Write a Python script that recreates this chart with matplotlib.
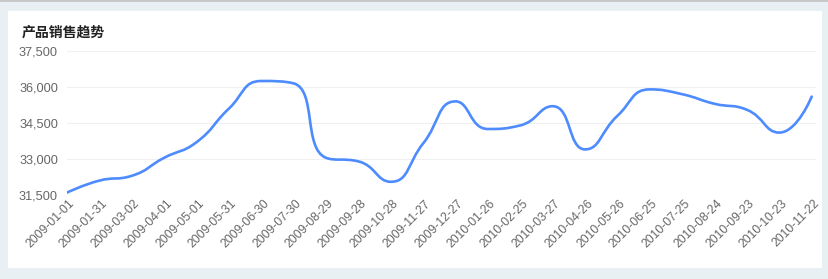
import matplotlib
matplotlib.use('Agg')
import matplotlib.pyplot as plt
import matplotlib.patches as patches
from matplotlib.path import Path
from matplotlib.transforms import ScaledTranslation
import numpy as np

plt.rcParams['font.family'] = ['Liberation Sans', 'Noto Sans CJK SC', 'DejaVu Sans']

# Data
dates = ['2009-01-01', '2009-01-31', '2009-03-02', '2009-04-01', '2009-05-01',
         '2009-05-31', '2009-06-30', '2009-07-30', '2009-08-29', '2009-09-28',
         '2009-10-28', '2009-11-27', '2009-12-27', '2010-01-26', '2010-02-25',
         '2010-03-27', '2010-04-26', '2010-05-26', '2010-06-25', '2010-07-25',
         '2010-08-24', '2010-09-23', '2010-10-23', '2010-11-22']
sales = [31600, 32100, 32300, 33050, 33700, 35100, 36250, 36150, 33050, 32900,
         32050, 33650, 35400, 34250, 34400, 35200, 33400, 34800, 35900, 35700,
         35300, 35050, 34100, 35600]
y_ticks = [31500, 33000, 34500, 36000, 37500]
title = '产品销售趋势'

line_color = '#4d8bff'
grid_color = '#f0f0f0'
label_color = '#666666'


def smooth_segments(px, py, smooth=0.5):
    # bezier control points with the "no overshoot" constraint
    segs = []
    cpx0, cpy0 = px[0], py[0]
    n = len(px)
    for k in range(1, n):
        x, y = px[k], py[k]
        prev_x, prev_y = px[k - 1], py[k - 1]
        if k == n - 1:
            segs.append((cpx0, cpy0, x, y, x, y))
            break
        next_x, next_y = px[k + 1], py[k + 1]
        vx, vy = next_x - prev_x, next_y - prev_y
        len_prev = np.hypot(x - prev_x, y - prev_y)
        len_next = np.hypot(next_x - x, next_y - y)
        r = len_next / (len_next + len_prev)
        ncx = x + vx * smooth * r
        ncy = y + vy * smooth * r
        ncx = max(min(ncx, max(next_x, x)), min(next_x, x))
        ncy = max(min(ncy, max(next_y, y)), min(next_y, y))
        vx, vy = ncx - x, ncy - y
        cpx1 = x - vx * len_prev / len_next
        cpy1 = y - vy * len_prev / len_next
        cpx1 = max(min(cpx1, max(prev_x, x)), min(prev_x, x))
        cpy1 = max(min(cpy1, max(prev_y, y)), min(prev_y, y))
        vx, vy = x - cpx1, y - cpy1
        ncx = x + vx * len_next / len_prev
        ncy = y + vy * len_next / len_prev
        segs.append((cpx0, cpy0, cpx1, cpy1, x, y))
        cpx0, cpy0 = ncx, ncy
    return segs


W, H = 829, 279
fig = plt.figure(figsize=(W / 100, H / 100), dpi=100)
fig.patch.set_facecolor('#e9f0f4')

# top border line and white card
fig.add_artist(patches.Rectangle((0, 1 - 1.5 / H), 1, 1.5 / H, transform=fig.transFigure,
                                 facecolor='#c8c8c8', edgecolor='none'))
fig.add_artist(patches.Rectangle((8 / W, 1 - 268 / H), 814 / W, 257 / H,
                                 transform=fig.transFigure, facecolor='white',
                                 edgecolor='none', zorder=0))

ax = fig.add_axes([67 / W, 1 - 195 / H, (816 - 67) / W, 144 / H])
ax.set_facecolor('none')

x = np.arange(len(sales))
y = np.array(sales, dtype=float)

ax.set_xlim(0, len(sales) - 1 + 4.3 / 32.38)
ax.set_ylim(y_ticks[0], y_ticks[-1])

# pixel scale of the axes, so the smoothing works like it does on screen
sx, sy = 32.38, 144 / 6000.0
verts = [(x[0], y[0])]
codes = [Path.MOVETO]
for c0x, c0y, c1x, c1y, ex, ey in smooth_segments(x * sx, y * sy):
    verts += [(c0x / sx, c0y / sy), (c1x / sx, c1y / sy), (ex / sx, ey / sy)]
    codes += [Path.CURVE4] * 3

ax.add_patch(patches.PathPatch(Path(verts, codes), facecolor='none',
                               edgecolor=line_color, linewidth=1.9,
                               capstyle='round', joinstyle='round', zorder=3))

# grid and axes styling
ax.set_yticks(y_ticks)
ax.set_yticklabels([f'{v:,}' for v in y_ticks])
ax.yaxis.grid(True, color=grid_color, linewidth=0.8)
ax.set_axisbelow(True)
for s in ax.spines.values():
    s.set_visible(False)
ax.tick_params(axis='y', length=0, pad=6.5, labelsize=9.2, labelcolor=label_color)
ax.tick_params(axis='x', length=0, pad=5, labelsize=8.8, labelcolor=label_color)

ax.set_xticks(x)
ax.set_xticklabels(dates, rotation=45, ha='right', va='center', rotation_mode='anchor')
shift = ScaledTranslation(6 / 100, 0, fig.dpi_scale_trans)
for lab in ax.get_xticklabels():
    lab.set_transform(lab.get_transform() + shift)

fig.text(21.5 / W, 1 - 33 / H, title, fontsize=10, fontweight='bold', color='#222222',
         family=['Noto Sans CJK SC', 'DejaVu Sans'], va='center', ha='left')

fig.savefig('out.png', dpi=100, facecolor=fig.get_facecolor())
